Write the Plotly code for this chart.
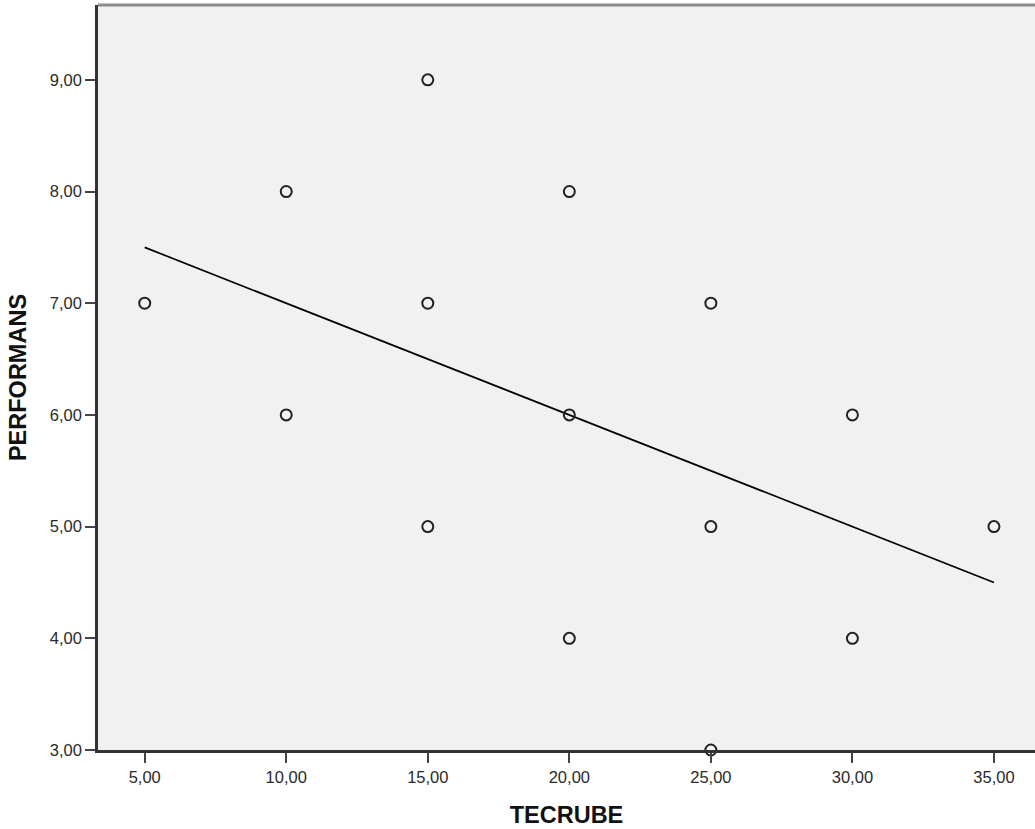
import numpy as np
import plotly.graph_objects as go

tecrube = [5, 10, 10, 15, 15, 15, 20, 20, 20, 25, 25, 25, 30, 30, 35]
performans = [7, 8, 6, 9, 7, 5, 8, 6, 4, 7, 5, 3, 6, 4, 5]
x_ticks = [5, 10, 15, 20, 25, 30, 35]
y_ticks = [3, 4, 5, 6, 7, 8, 9]

slope, intercept = np.polyfit(tecrube, performans, 1)
fit_x = [min(tecrube), max(tecrube)]
fit_y = [intercept + slope * v for v in fit_x]

def fmt(v):
    return f"{v:.2f}".replace(".", ",")

fig = go.Figure()
fig.add_trace(go.Scatter(
    x=fit_x, y=fit_y, mode="lines",
    line=dict(color="black", width=1.7), hoverinfo="skip", showlegend=False))
fig.add_trace(go.Scatter(
    x=tecrube, y=performans, mode="markers",
    marker=dict(symbol="circle-open", size=11, color="#222222", line=dict(width=2)),
    showlegend=False, cliponaxis=False))

font_tick = dict(family="Liberation Sans, Arial, sans-serif", size=16.5, color="#2a2a2a")
font_title = dict(family="Liberation Sans, Arial, sans-serif", size=23.5, color="#111111")

fig.update_layout(
    width=1035, height=829,
    margin=dict(l=97.5, r=0, t=5, b=79),
    paper_bgcolor="white", plot_bgcolor="#f1f1f1",
    xaxis=dict(
        range=[3.35, 36.45], tickvals=x_ticks, ticktext=[fmt(v) for v in x_ticks],
        ticks="outside", ticklen=10, tickwidth=2, tickcolor="#444444",
        showline=True, linecolor="#333333", linewidth=2.5, showgrid=False, zeroline=False,
        tickfont=font_tick,
        title=dict(text="<b>TECRUBE</b>", font=font_title, standoff=23)),
    yaxis=dict(
        range=[3, 9.67], tickvals=y_ticks, ticktext=[fmt(v) for v in y_ticks],
        ticks="outside", ticklen=10, tickwidth=2, tickcolor="#444444",
        showline=True, linecolor="#333333", linewidth=2.5, showgrid=False, zeroline=False,
        tickfont=font_tick,
        title=dict(text="<b>PERFORMANS</b>", font=font_title, standoff=17)),
    shapes=[dict(type="line", xref="paper", yref="paper", x0=0, x1=1, y0=1, y1=1,
                 line=dict(color="#8a8a8a", width=3))],
)

fig.write_html("out.html", config={"displayModeBar": False},
               post_script="document.body.style.margin='0';document.body.style.overflow='hidden';")
